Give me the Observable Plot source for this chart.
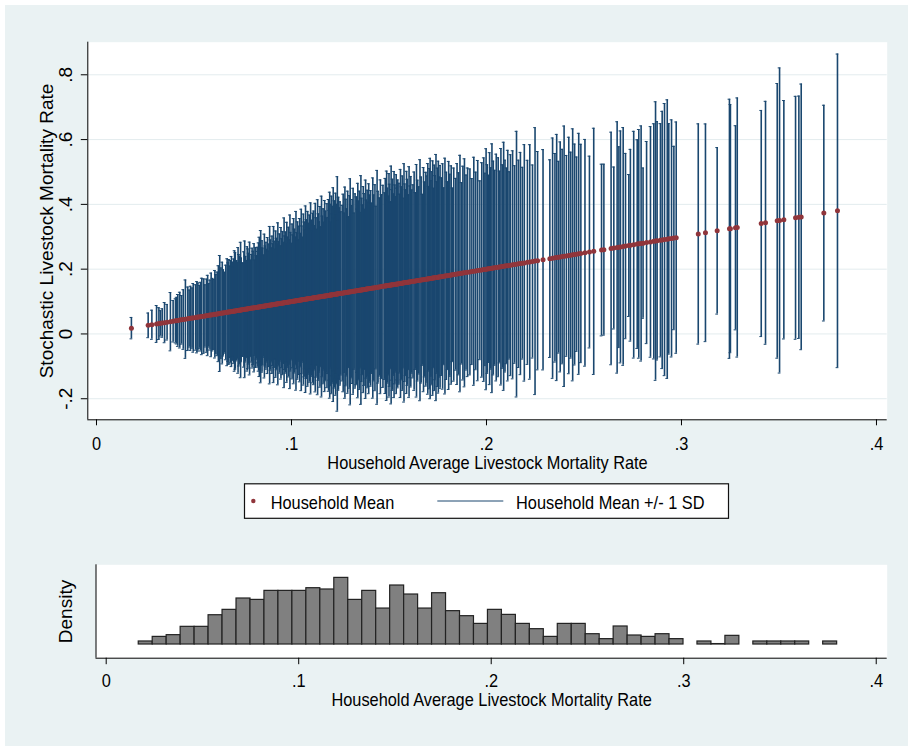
<!DOCTYPE html>
<html>
<head>
<meta charset="utf-8">
<script src="https://cdn.jsdelivr.net/npm/d3@7"></script>
<script src="https://cdn.jsdelivr.net/npm/@observablehq/plot@0.6"></script>
<style>
html, body { margin: 0; padding: 0; background: #ffffff; overflow: hidden; width: 908px; height: 746px; }
#bg { position: absolute; left: 5px; top: 5px; width: 903px; height: 741px; background: #eaf2f3; }
#top { position: absolute; left: 0; top: 0; }
#hist { position: absolute; left: 0; top: 545px; }
#legend { position: absolute; left: 240px; top: 480px; }
</style>
</head>
<body>
<div id="bg"></div>
<div id="top"></div>
<div id="legend"></div>
<div id="hist"></div>
<script>
// ---------- data ----------
const xTicks = [0, 0.1, 0.2, 0.3, 0.4];
const xTickLabels = ["0", ".1", ".2", ".3", ".4"];
const yTicks = [-0.2, 0, 0.2, 0.4, 0.6, 0.8];
const yTickLabels = ["-.2", "0", ".2", ".4", ".6", ".8"];
const xTitle = "Household Average Livestock Mortality Rate";
const yTitle = "Stochastic Livestock Mortality Rate";
const histYTitle = "Density";
const legendLabels = ["Household Mean", "Household Mean +/- 1 SD"];

// household mean (x 10000)
const householdMean = [
  179,
  265,284,308,
  320,328,337,349,362,379,
  393,405,411,417,427,436,445,456,
  468,475,482,490,496,508,515,520,527,
  533,540,550,556,564,570,576,582,588,595,602,
  607,612,619,625,632,638,645,650,656,663,670,675,
  679,684,688,692,696,700,704,708,712,718,722,726,730,735,739,742,747,
  752,756,760,764,769,773,776,780,785,790,794,798,803,808,811,815,820,
  824,827,831,835,839,842,845,849,853,858,861,865,869,872,877,880,884,888,892,
  897,900,904,908,911,915,919,923,926,930,934,938,942,946,950,954,958,962,965,
  969,973,976,980,984,988,992,995,999,1003,1007,1011,1015,1019,1023,1027,1031,1035,1038,
  1042,1046,1050,1053,1057,1061,1065,1068,1072,1076,1080,1083,1087,1091,1094,1098,1102,1105,1109,1111,
  1114,1118,1122,1126,1130,1134,1138,1142,1146,1150,1154,1158,1162,1166,1170,1174,1178,1182,
  1187,1190,1193,1196,1199,1202,1205,1208,1211,1214,1217,1220,1223,1226,1229,1232,1235,1238,1241,1245,1249,1253,
  1260,1265,1270,1274,1279,1283,1288,1292,1297,1301,1306,1311,1316,1321,1326,
  1332,1336,1340,1344,1348,1352,1356,1360,1364,1368,1372,1376,1380,1384,1388,1392,1396,1400,
  1406,1411,1417,1422,1428,1433,1439,1444,1450,1456,1462,1469,
  1477,1481,1485,1488,1492,1496,1500,1503,1507,1511,1515,1518,1522,1526,1530,1533,1537,1541,1545,
  1551,1555,1559,1564,1568,1572,1577,1581,1585,1590,1594,1599,1603,1608,1612,1617,
  1623,1629,1635,1641,1647,1653,1659,1665,1671,1677,1683,1689,
  1695,1699,1703,1707,1711,1715,1720,1724,1728,1732,1736,1741,1745,1749,1753,1757,1762,
  1769,1775,1781,1787,1794,1800,1806,1812,1819,1825,1832,
  1842,1849,1857,1864,1872,1879,1887,1895,1903,
  1915,1925,1935,1945,1955,1966,1976,
  1986,1992,1998,2004,2010,2016,2022,2028,2035,2042,2050,
  2060,2067,2074,2081,2088,2095,2102,2109,2116,2123,
  2134,2144,2154,2164,2174,2184,2194,
  2210,2222,2236,2249,2262,
  2290,2325,2339,
  2351,2360,2369,2378,2388,2398,2410,
  2422,2432,2442,2452,2462,2473,2484,
  2505,2528,2550,
  2590,2602,2639,2653,2670,2679,2687,2701,2713,2730,2738,2755,2773,2781,2793,2803,2821,2841,2858,2867,2875,2892,2901,2913,2927,2935,2949,2961,2973,
  3086,3123,3183,3246,3251,3277,3286,3409,3431,3491,3503,3525,3585,3602,3614,3730,3800
];
// household standard deviation (x 1000)
const householdSD = [
  33,
  38,45,57,
  49,39,44,62,55,90,
  64,68,72,80,86,75,92,121,
  98,88,99,93,106,101,110,105,97,
  106,118,115,96,113,124,98,108,129,112,108,
  135,122,129,148,179,140,157,133,125,146,165,152,
  162,141,158,170,152,137,161,186,180,155,149,194,172,165,209,160,144,
  144,178,211,163,150,192,185,171,205,149,166,185,175,198,147,185,160,
  185,172,198,215,166,235,181,203,180,158,222,185,196,174,210,168,189,243,201,
  176,212,188,241,195,170,226,203,184,250,192,215,178,234,199,221,187,262,206,
  218,185,247,201,231,192,268,214,180,239,205,255,222,197,276,210,243,188,229,
  252,206,280,228,193,264,239,214,288,245,201,270,233,258,219,295,241,207,262,226,
  268,223,291,246,210,301,257,232,279,216,310,248,270,228,295,262,239,284,
  241,296,262,318,225,280,305,250,273,330,236,289,262,312,248,277,362,229,298,265,283,252,
  271,305,246,326,288,258,312,233,297,349,266,284,318,241,300,
  290,252,331,276,306,240,353,283,262,318,296,247,337,275,305,268,324,289,
  302,263,340,287,318,251,361,296,275,330,284,312,
  288,332,265,354,301,276,345,312,258,367,294,326,280,349,307,271,338,296,321,
  310,276,352,298,331,262,368,305,287,343,318,270,356,296,325,283,
  298,337,273,359,310,289,372,318,264,346,301,330,
  318,356,285,340,371,302,329,362,277,348,315,380,296,337,358,309,344,
  305,348,273,364,320,290,352,312,337,268,329,
  296,341,312,365,280,330,352,301,322,
  318,287,352,305,340,276,331,
  345,297,372,322,289,358,311,384,330,301,350,
  338,296,365,314,383,327,302,356,289,341,
  352,305,410,320,343,296,365,
  315,362,298,412,337,
  340,305,371,
  322,380,296,355,331,402,310,
  365,318,389,341,300,372,337,
  350,296,380,
  265,264,359,250,388,310,358,367,286,219,296,350,322,353,363,232,312,356,363,430,368,360,397,420,430,356,366,283,357,
  340,336,257,400,383,315,400,349,375,424,471,368,375,374,410,333,484
];

// histogram densities (50 bins)
const binStart = 0.0169;
const binWidth = 0.007256;
const histDensity = [
  0.35,0.88,1.08,2.04,2.04,3.38,4.00,5.31,5.15,6.19,
  6.19,6.19,6.50,6.35,7.69,5.15,6.19,4.15,6.81,5.77,
  4.15,5.92,3.85,3.27,2.38,4.00,3.42,2.38,1.77,0.88,
  2.38,2.38,1.19,0.62,2.08,1.04,0.88,1.19,0.62,0,
  0.35,0.05,1.00,0,0.35,0.35,0.35,0.35,0,0.35
];

// ---------- styling ----------
const navy = "#1a476f";
const maroon = "#90353b";
const gridColor = "#e3ecee";
const font = "'Liberation Sans', Arial, sans-serif";
const fs = 19;
const squeeze = 0.86;
const cap = 0.0007;

const n = Math.min(householdMean.length, householdSD.length);
const hh = d3.range(n).map(i => {
  const m = householdMean[i] / 10000, s = householdSD[i] / 1000;
  return {mean: m, sd: s, lo: m - s, hi: m + s};
});
const bins = histDensity.map((v, i) => ({x1: binStart + i * binWidth, x2: binStart + (i + 1) * binWidth, density: v}))
  .filter(d => d.density > 0);

const xDom = [-0.00446, 0.4055];
const yDom = [-0.265, 0.9006];
const hxDom = [-0.0053, 0.4057];
const hyDom = [-1.58, 9.2];

const txt = {fontSize: fs, fill: "#000", lineAnchor: "middle", textAnchor: "middle"};

const topPlot = Plot.plot({
  width: 908, height: 475,
  marginTop: 41.7, marginLeft: 87.3, marginRight: 21.3, marginBottom: 55.7,
  style: {background: "transparent", fontFamily: font, fontSize: fs + "px", color: "#000", overflow: "visible"},
  x: {domain: xDom},
  y: {domain: yDom},
  marks: [
    Plot.frame({fill: "white", stroke: "none"}),
    Plot.ruleY(yTicks, {stroke: gridColor, strokeWidth: 1}),
    Plot.ruleX(hh, {x: "mean", y1: "lo", y2: "hi", stroke: navy, strokeWidth: 1.6}),
    Plot.ruleY(hh, {y: "hi", x1: d => d.mean - cap, x2: d => d.mean + cap, stroke: navy, strokeWidth: 1}),
    Plot.ruleY(hh, {y: "lo", x1: d => d.mean - cap, x2: d => d.mean + cap, stroke: navy, strokeWidth: 1}),
    Plot.dot(hh, {x: "mean", y: "mean", r: 2.5, fill: maroon, stroke: "none"}),
    Plot.ruleX([xDom[0]], {stroke: "#000", strokeWidth: 1}),
    Plot.ruleY([yDom[0]], {stroke: "#000", strokeWidth: 1}),
    Plot.axisX(xTicks, {anchor: "bottom", tickSize: 6, tickFormat: () => "", label: null, stroke: "#000"}),
    Plot.axisY(yTicks, {anchor: "left", tickSize: 6.5, tickFormat: () => "", label: null, stroke: "#000"}),
    Plot.text(xTicks, {...txt, x: d => d, text: (d, i) => xTickLabels[i], frameAnchor: "bottom", dy: 24}),
    Plot.text(yTicks, {...txt, y: d => d, text: (d, i) => yTickLabels[i], frameAnchor: "left", dx: -21.5, rotate: -90}),
    Plot.text([xTitle], {...txt, text: d => d, frameAnchor: "bottom", dy: 43}),
    Plot.text([yTitle], {...txt, text: d => d, frameAnchor: "left", dx: -40.8, rotate: -90})
  ]
});
document.getElementById("top").appendChild(topPlot);

const histPlot = Plot.plot({
  width: 908, height: 175,
  marginTop: 19.3, marginLeft: 95.5, marginRight: 21.3, marginBottom: 62.3,
  style: {background: "transparent", fontFamily: font, fontSize: fs + "px", color: "#000", overflow: "visible"},
  x: {domain: hxDom},
  y: {domain: hyDom, axis: null},
  marks: [
    Plot.frame({fill: "white", stroke: "none"}),
    Plot.rect(bins, {x1: "x1", x2: "x2", y1: 0, y2: "density", fill: "#808080", stroke: "#222222", strokeWidth: 1.2}),
    Plot.ruleX([hxDom[0]], {stroke: "#000", strokeWidth: 1}),
    Plot.ruleY([hyDom[0]], {stroke: "#000", strokeWidth: 1}),
    Plot.axisX(xTicks, {anchor: "bottom", tickSize: 6.5, tickFormat: () => "", label: null, stroke: "#000"}),
    Plot.text(xTicks, {...txt, x: d => d, text: (d, i) => xTickLabels[i], frameAnchor: "bottom", dy: 22.3}),
    Plot.text([xTitle], {...txt, text: d => d, frameAnchor: "bottom", dy: 41.8}),
    Plot.text([histYTitle], {...txt, text: d => d, frameAnchor: "left", dx: -30, rotate: -90})
  ]
});
document.getElementById("hist").appendChild(histPlot);

// ---------- legend ----------
const lg = d3.select("#legend").append("svg")
  .attr("width", 495).attr("height", 45)
  .style("font-family", font).style("font-size", fs + "px").style("overflow", "visible");
lg.append("rect").attr("x", 4.5).attr("y", 3.8).attr("width", 484).attr("height", 34.5)
  .attr("fill", "#fff").attr("stroke", "#111").attr("stroke-width", 1.2);
lg.append("circle").attr("cx", 13.3).attr("cy", 21).attr("r", 2.2).attr("fill", maroon);
lg.append("text").attr("x", 30.7).attr("y", 28.8).attr("fill", "#000").text(legendLabels[0]);
lg.append("line").attr("x1", 197.3).attr("x2", 263.3).attr("y1", 21).attr("y2", 21)
  .attr("stroke", navy).attr("stroke-width", 1);
lg.append("text").attr("x", 276).attr("y", 28.8).attr("fill", "#000").text(legendLabels[1]);

// horizontal condensation of the text, as in the original
document.querySelectorAll("svg text").forEach(t => {
  const tr = (t.getAttribute("transform") || "");
  if (tr.includes("rotate")) return;
  const w = t.getComputedTextLength();
  if (w > 0) {
    t.setAttribute("textLength", (w * squeeze).toFixed(2));
    t.setAttribute("lengthAdjust", "spacingAndGlyphs");
  }
});
</script>
</body>
</html>
